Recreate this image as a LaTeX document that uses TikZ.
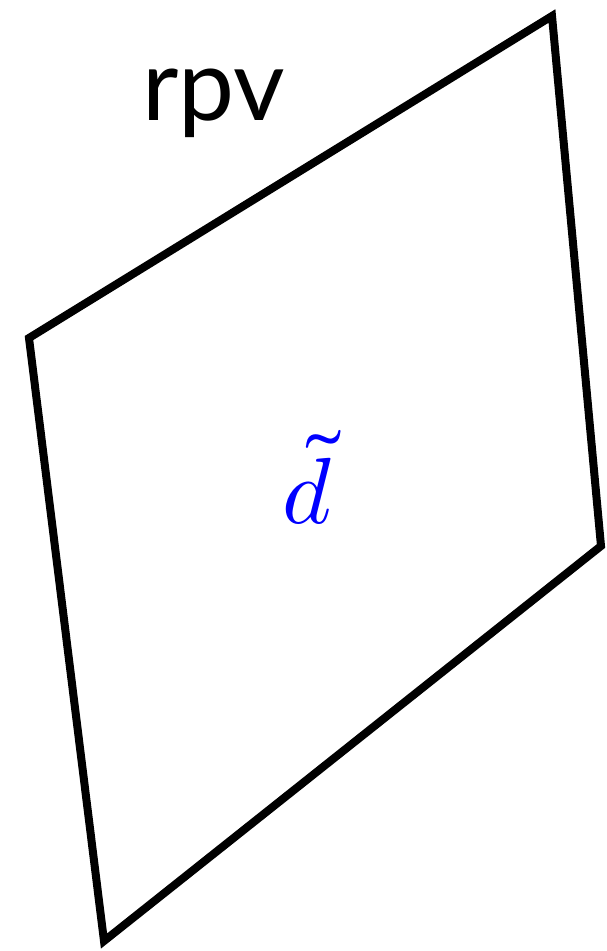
\documentclass[tikz,border=0pt]{standalone}
\usepackage{fontspec}
\setmainfont{Lato}
\usepackage{unicode-math}
\setmathfont{Latin Modern Math}
\begin{document}
\begin{tikzpicture}[x=1pt,y=-1pt,
  quadline/.style={draw=black,line width=8pt,line join=miter},
  lbl/.style={inner sep=0pt,anchor=base}]
\useasboundingbox (0,0) rectangle (607,951);
\coordinate (A) at (552,16);
\coordinate (B) at (29,338);
\coordinate (C) at (104,941);
\coordinate (D) at (601,546);
\draw[quadline] (A) -- (B) -- (C) -- (D) -- cycle;
\node[lbl] (title) at (214,120) {\fontsize{100}{110}\selectfont rpv};
\node[lbl,text=blue] (d) at (308,523) {\fontsize{94}{100}\selectfont $\tilde{d}$};
\end{tikzpicture}
\end{document}
